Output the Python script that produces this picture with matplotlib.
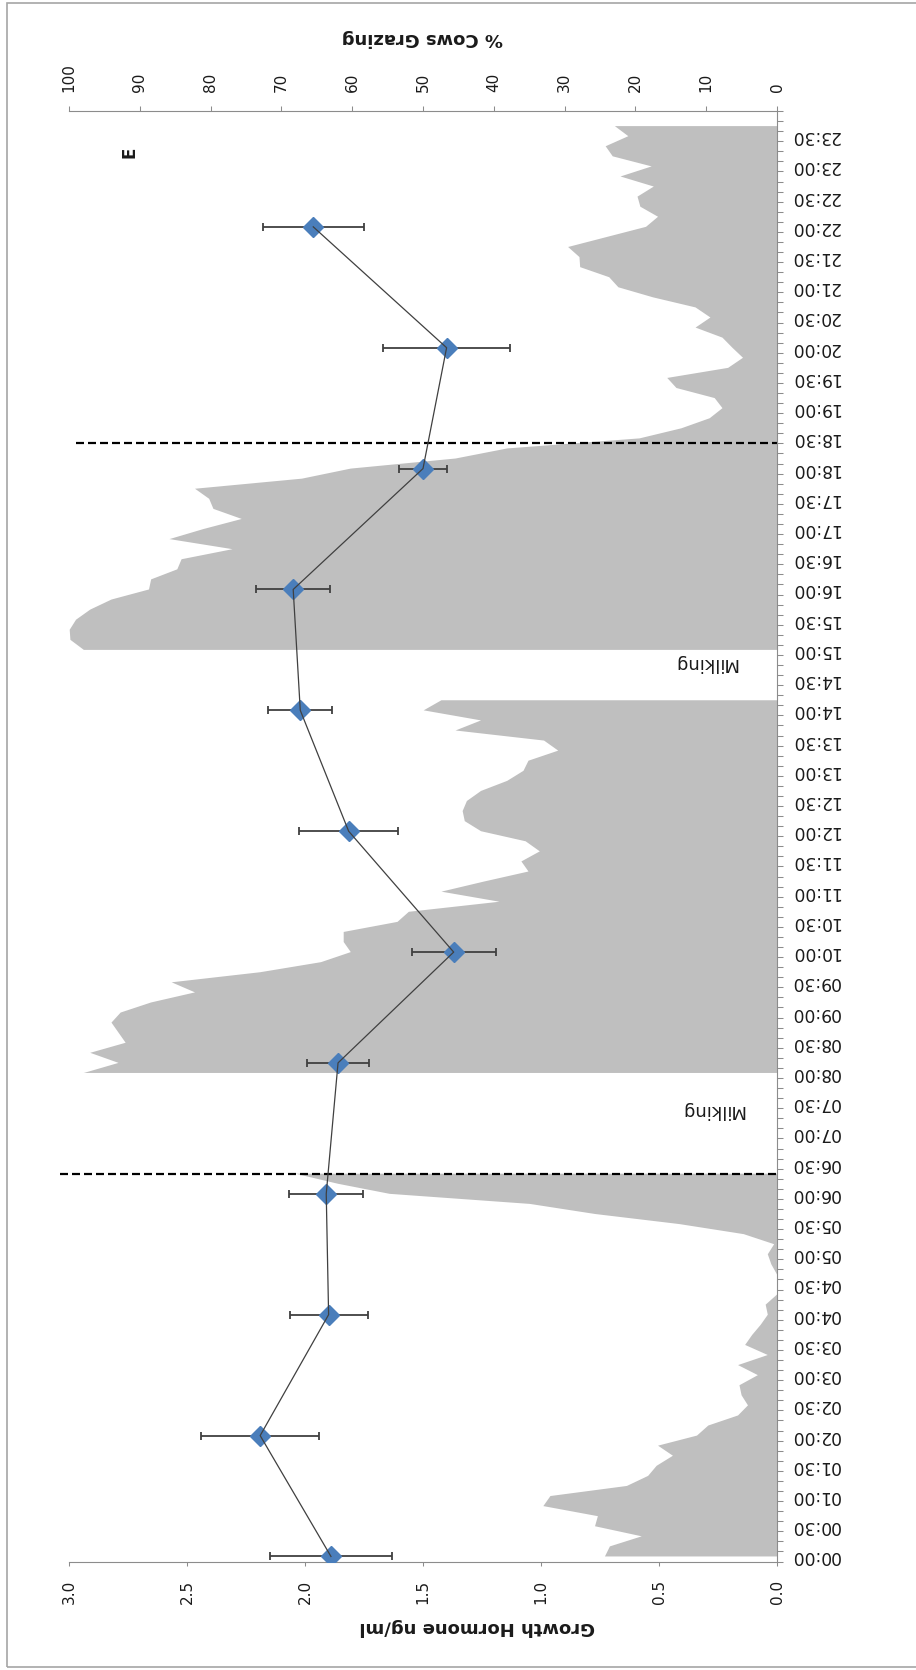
import numpy as np
import matplotlib
matplotlib.use("Agg")
import matplotlib.pyplot as plt
from matplotlib.patches import Rectangle

# Growth hormone samples (time in minutes after midnight)
gh_minutes = [0, 120, 240, 360, 490, 600, 720, 840, 960, 1080, 1200, 1320]
gh_value = [1.89, 2.19, 1.90, 1.91, 1.86, 1.37, 1.815, 2.02, 2.05, 1.50, 1.40, 1.965]
gh_err = [0.26, 0.25, 0.165, 0.157, 0.13, 0.178, 0.21, 0.135, 0.157, 0.10, 0.27, 0.215]

# % cows grazing, one value per 10-minute slot from 00:00 to 23:50 (None = milking / no data)
cows_grazing = [
    24.3, 23.6, 19.1, 25.7, 25.3, 33.0, 32.0, 21.2, 18.2, 17.0,   # 00:00-01:30
    14.7, 16.8, 11.3, 9.7, 5.5, 4.1, 5.0, 5.3, 2.7, 5.5,          # 01:40-03:10
    1.3, 4.5, 3.5, 2.3, 1.3, 1.6, 0.0, 0.0, 0.0, 0.8,             # 03:20-04:50
    1.3, 0.4, 4.7, 13.8, 25.7, 34.9, 54.7, 62.0, 68.0, None,      # 05:00-06:30
    None, None, None, None, None, None, None, None, 97.9, 93.0,   # 06:40-08:10
    97.0, 92.0, 93.0, 94.0, 92.7, 88.4, 82.2, 85.5, 73.0, 64.4,   # 08:20-09:50
    60.2, 61.2, 61.2, 53.6, 52.0, 39.2, 47.4, 41.4, 35.1, 36.1,   # 10:00-11:30
    33.5, 35.5, 41.8, 44.1, 44.4, 43.8, 41.8, 38.1, 35.8, 35.1,   # 11:40-13:10
    30.9, 32.9, 45.4, 41.8, 49.9, 47.4, None, None, None, None,   # 13:20-14:50
    97.9, 99.8, 99.9, 99.0, 97.0, 94.0, 88.7, 88.4, 84.7, 84.1,   # 15:00-16:30
    76.9, 85.8, 81.0, 75.6, 79.6, 80.2, 82.2, 67.1, 60.2, 45.4,   # 16:40-18:10
    38.1, 19.4, 13.5, 9.5, 7.7, 8.8, 14.2, 15.5, 6.9, 4.8,        # 18:20-19:50
    6.3, 7.7, 11.5, 9.4, 11.5, 17.5, 22.4, 23.7, 27.8, 27.9,      # 20:00-21:30
    29.5, 24.0, 18.5, 16.8, 19.3, 19.7, 17.4, 22.1, 17.7, 23.2,   # 21:40-23:10
    24.2, 21.0, 22.9, None,                                       # 23:20-23:50
]

time_labels = [f"{m // 60:02d}:{m % 60:02d}" for m in range(0, 1440, 30)]
gh_ticks = [0.0, 0.5, 1.0, 1.5, 2.0, 2.5, 3.0]
cow_ticks = [0, 10, 20, 30, 40, 50, 60, 70, 80, 90, 100]

# sunrise / sunset markers (minutes)
dash_times = [380, 1105]

W, H = 916, 1670
AXIS_C = "#8c8c8c"
TXT = "#1a1a1a"


def fx(px):
    return px / W


def fy(py):
    return 1 - py / H


fig = plt.figure(figsize=(W / 100, H / 100), dpi=100)
top_px, bot_px, left_px, right_px = 111, 1561.5, 69, 777
ax_g = fig.add_axes([fx(left_px), fy(bot_px), fx(right_px - left_px), (bot_px - top_px) / H])
ax_c = ax_g.twiny()
ax_g.set_zorder(2)
ax_g.patch.set_visible(False)
ax_c.set_zorder(1)

# grazing area on the top (cows) axis
cow_minutes = np.arange(len(cows_grazing)) * 10
cow_vals = np.array([np.nan if v is None else v for v in cows_grazing], dtype=float)
ax_c.fill_betweenx(cow_minutes, cow_vals, 0, color="#bfbfbf", lw=0)
ax_c.set_xlim(100, 0)

# growth hormone on the bottom axis
ax_g.set_xlim(3, 0)
ax_g.set_ylim(-5, 1435)

for t, x0 in zip(dash_times, [3.04, 2.97]):
    ax_g.plot([x0, 0], [t, t], color="black", lw=1.6, ls=(0, (3.6, 1.8)),
              clip_on=False, zorder=2)

ax_g.errorbar(gh_value, gh_minutes, xerr=gh_err, fmt="none", ecolor="#404040",
              elinewidth=1.3, capsize=3, capthick=1.3, zorder=3)
ax_g.plot(gh_value, gh_minutes, ls="none", marker="D", ms=10, color="#4a7ebb",
          mec="#4a7ebb", zorder=4)
ax_g.plot(gh_value, gh_minutes, color="#404040", lw=0.9, zorder=5)

# time axis on the right, labels upside down
ax_g.yaxis.tick_right()
bounds = np.arange(-5, 1436, 10)
ax_g.set_yticks(bounds, labels=[""] * len(bounds))
ax_g.set_yticks(np.arange(0, 1440, 30), labels=time_labels, minor=True,
                rotation=180, va="center", ha="left")
ax_g.tick_params(axis="y", which="major", length=4.3, width=0.75, color=AXIS_C)
ax_g.tick_params(axis="y", which="minor", length=0, pad=9.8, labelsize=12.3,
                 labelcolor=TXT)

ax_g.set_xticks(gh_ticks, labels=[f"{v:.1f}" for v in gh_ticks], rotation=90)
ax_g.tick_params(axis="x", length=3, width=0.75, color=AXIS_C, pad=10.5,
                 labelsize=11, labelcolor=TXT)

ax_c.set_xticks(cow_ticks, labels=[str(v) for v in cow_ticks], rotation=90)
ax_c.tick_params(axis="x", length=3.5, width=0.75, color=AXIS_C, pad=10.5,
                 labelsize=11, labelcolor=TXT)

for s in ("left", "top"):
    ax_g.spines[s].set_visible(False)
for s in ("right", "bottom"):
    ax_g.spines[s].set_color(AXIS_C)
for s in ("left", "right", "bottom"):
    ax_c.spines[s].set_visible(False)
ax_c.spines["top"].set_color(AXIS_C)

# titles and annotations (rotated with the chart)
fig.text(fx(477), fy(1627), "Growth Hormone ng/ml", rotation=180, ha="center",
         va="center", fontsize=13, fontweight="bold", color=TXT)
fig.text(fx(422), fy(38), "% Cows Grazing", rotation=180, ha="center",
         va="center", fontsize=13, fontweight="bold", color=TXT)
fig.text(fx(712), fy(1110), "Milking", rotation=180, ha="center", va="center",
         fontsize=13, color=TXT)
fig.text(fx(705), fy(663), "Milking", rotation=180, ha="center", va="center",
         fontsize=13, color=TXT)
fig.text(fx(130), fy(152), "E", rotation=90, ha="center", va="center",
         fontsize=12, fontweight="bold", color=TXT)

fig.add_artist(Rectangle((fx(7), fy(1667)), fx(930 - 7), (1667 - 3) / H,
                         transform=fig.transFigure, fill=False,
                         edgecolor="#a6a6a6", lw=1.2, clip_on=False))

fig.savefig("out.png", dpi=100)
